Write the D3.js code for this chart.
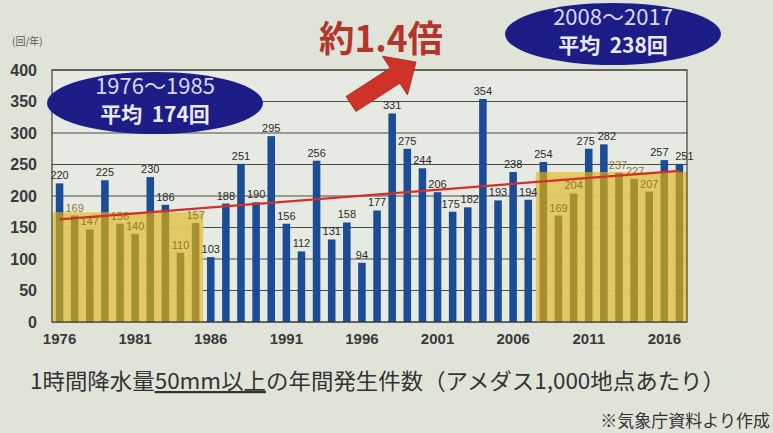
<!DOCTYPE html>
<html>
<head>
<meta charset="utf-8">
<script src="https://cdn.jsdelivr.net/npm/d3@7"></script>
<style>
  html, body { margin: 0; padding: 0; background: #e0e3d8; }
  svg { display: block; }
</style>
</head>
<body>
<svg id="chart" width="773" height="433"></svg>
<script>
// Annual number of 1-hour rainfall events of 50 mm or more (per 1,000 AMeDAS stations)
const years = [
  1976, 1977, 1978, 1979, 1980, 1981, 1982, 1983, 1984, 1985,
  1986, 1987, 1988, 1989, 1990, 1991, 1992, 1993, 1994, 1995,
  1996, 1997, 1998, 1999, 2000, 2001, 2002, 2003, 2004, 2005,
  2006, 2007, 2008, 2009, 2010, 2011, 2012, 2013, 2014, 2015,
  2016, 2017
];
const counts = [
  220, 169, 147, 225, 156, 140, 230, 186, 110, 157,
  103, 188, 251, 190, 295, 156, 112, 256, 131, 158,
   94, 177, 331, 275, 244, 206, 175, 182, 354, 193,
  238, 194, 254, 169, 204, 275, 282, 237, 227, 207,
  257, 251
];
const yTicks = [0, 50, 100, 150, 200, 250, 300, 350, 400];
const xTickYears = [1976, 1981, 1986, 1991, 1996, 2001, 2006, 2011, 2016];

// decade averages shown as shaded blocks
const periodEarly = [1976, 1985];
const avgEarly = 174;
const periodLate = [2008, 2017];
const avgLate = 238;

// linear trend, start and end values
const trendYears = [1976, 2017];
const trendValues = [163, 240];

const unitLabel = "(回/年)";
const ratioLabel = "約1.4倍";
const earlyRange = "1976～1985";
const earlyAvgLabel = "平均 174回";
const lateRange = "2008～2017";
const lateAvgLabel = "平均 238回";
const captionPre = "1時間降水量";
const captionUnder = "50mm以上";
const captionPost = "の年間発生件数（アメダス1,000地点あたり）";
const sourceNote = "※気象庁資料より作成";

const svg = d3.select("#chart");
const plot = { left: 52, right: 687, top: 70, bottom: 322 };

const jp = "'Noto Sans CJK JP', 'Noto Sans', sans-serif";
const num = "'Liberation Sans Narrow', 'Liberation Sans', 'DejaVu Sans Condensed', sans-serif";

const x = d3.scaleBand()
  .domain(years)
  .range([plot.left, plot.right])
  .paddingInner(0.5)
  .paddingOuter(0.25);
const y = d3.scaleLinear().domain([0, 400]).range([plot.bottom, plot.top]);
const bw = x.bandwidth();
const gap = x.step() * x.paddingInner() / 2;

// plot background
svg.append("rect")
  .attr("x", plot.left).attr("y", plot.top)
  .attr("width", plot.right - plot.left).attr("height", plot.bottom - plot.top)
  .attr("fill", "#e7eae2");

// horizontal grid
svg.append("g").selectAll("line").data(yTicks).join("line")
  .attr("x1", plot.left).attr("x2", plot.right)
  .attr("y1", d => y(d)).attr("y2", d => y(d))
  .attr("stroke", "#4a4a46").attr("stroke-width", 1);

// shaded average blocks
const blocks = [
  { from: periodEarly[0], to: periodEarly[1], avg: avgEarly },
  { from: periodLate[0], to: periodLate[1], avg: avgLate }
];
function blockOf(yr) {
  return blocks.find(b => yr >= b.from && yr <= b.to);
}
svg.append("g").selectAll("rect").data(blocks).join("rect")
  .attr("x", d => Math.max(plot.left, x(d.from) - gap))
  .attr("width", d => Math.min(plot.right, x(d.to) + bw + gap) - Math.max(plot.left, x(d.from) - gap))
  .attr("y", d => y(d.avg))
  .attr("height", d => y(0) - y(d.avg))
  .attr("fill", "#e3c75c")
  .attr("opacity", 0.95);

const rows = years.map((yr, i) => ({ yr, v: counts[i], block: blockOf(yr) }));

// bars: olive inside the shaded block, blue above it
const barG = svg.append("g");
barG.selectAll("rect.olive").data(rows.filter(r => r.block)).join("rect")
  .attr("class", "olive")
  .attr("x", d => x(d.yr)).attr("width", bw)
  .attr("y", d => y(Math.min(d.v, d.block.avg)))
  .attr("height", d => y(0) - y(Math.min(d.v, d.block.avg)))
  .attr("fill", "#a58f30");
barG.selectAll("rect.blue").data(rows.filter(r => !r.block || r.v > r.block.avg)).join("rect")
  .attr("class", "blue")
  .attr("x", d => x(d.yr)).attr("width", bw)
  .attr("y", d => y(d.v))
  .attr("height", d => (d.block ? y(d.block.avg) : y(0)) - y(d.v))
  .attr("fill", "#1d4c97");

// value labels, a few nudged sideways where neighbours crowd
const nudge = { 2002: -2, 2003: 2, 2011: -3, 2012: 3, 2013: -1, 2014: 1, 2016: -5, 2017: 5 };
svg.append("g").selectAll("text").data(rows).join("text")
  .attr("x", d => x(d.yr) + bw / 2 + (nudge[d.yr] || 0))
  .attr("y", d => y(d.v) - 4)
  .attr("text-anchor", "middle")
  .attr("font-family", num)
  .attr("font-size", 11)
  .attr("fill", d => (d.block && d.v < d.block.avg) ? "#8c7a2c" : "#2a2a2a")
  .text(d => d.v);

// trend line
svg.append("line")
  .attr("x1", x(trendYears[0]) + bw / 2).attr("y1", y(trendValues[0]))
  .attr("x2", x(trendYears[1]) + bw / 2).attr("y2", y(trendValues[1]))
  .attr("stroke", "#d2302a").attr("stroke-width", 2.2);

// frame
svg.append("rect")
  .attr("x", plot.left).attr("y", plot.top)
  .attr("width", plot.right - plot.left).attr("height", plot.bottom - plot.top)
  .attr("fill", "none").attr("stroke", "#3e3e3a").attr("stroke-width", 1.2);

// axes
const yAxis = svg.append("g")
  .attr("transform", `translate(${plot.left - 15},0)`)
  .call(d3.axisLeft(y).tickValues(yTicks).tickSize(0).tickPadding(0));
yAxis.select(".domain").remove();
yAxis.selectAll("text")
  .attr("font-family", "'Liberation Sans', sans-serif")
  .attr("font-weight", "bold")
  .attr("font-size", 16)
  .attr("fill", "#3a3a38");

const xAxis = svg.append("g")
  .attr("transform", `translate(0,${plot.bottom})`)
  .call(d3.axisBottom(x).tickValues(xTickYears).tickSize(0).tickPadding(11));
xAxis.select(".domain").remove();
xAxis.selectAll("text")
  .attr("font-family", num)
  .attr("font-weight", "bold")
  .attr("font-size", 15)
  .attr("fill", "#3a3a38");

svg.append("text")
  .attr("x", 12).attr("y", 45)
  .attr("font-family", jp).attr("font-size", 10)
  .attr("fill", "#555").text(unitLabel);

// period badges
function badge(cx, cy, rx, ry, range, avgText) {
  const g = svg.append("g");
  g.append("ellipse")
    .attr("cx", cx).attr("cy", cy).attr("rx", rx).attr("ry", ry)
    .attr("fill", "#1c1d86");
  g.append("text")
    .attr("x", cx).attr("y", cy - 9)
    .attr("text-anchor", "middle")
    .attr("font-family", "'Liberation Sans Narrow', " + jp)
    .attr("font-size", 22)
    .attr("fill", "#d9d9ef")
    .text(range);
  g.append("text")
    .attr("x", cx).attr("y", cy + 19)
    .attr("text-anchor", "middle")
    .attr("font-family", jp)
    .attr("font-weight", "bold")
    .attr("font-size", 21)
    .attr("fill", "#eaeaf6")
    .attr("xml:space", "preserve")
    .text(avgText.replace(" ", "  "));
}
badge(155, 103, 108, 31, earlyRange, earlyAvgLabel);
badge(613, 34, 108, 31, lateRange, lateAvgLabel);

// block arrow pointing up to the ratio
(function arrow() {
  const tail = [351, 104], tip = [416, 62];
  const dx = tip[0] - tail[0], dy = tip[1] - tail[1];
  const L = Math.hypot(dx, dy);
  const ang = Math.atan2(dy, dx) * 180 / Math.PI;
  const sh = 9, hw = 23, hl = 25;
  const pts = [[0, -sh], [L - hl, -sh], [L - hl, -hw], [L, 0], [L - hl, hw], [L - hl, sh], [0, sh]];
  svg.append("polygon")
    .attr("points", pts.map(p => p.join(",")).join(" "))
    .attr("transform", `translate(${tail[0]},${tail[1]}) rotate(${ang})`)
    .attr("fill", "#cf3328")
    .attr("stroke", "#a82a22").attr("stroke-width", 0.8);
})();

svg.append("text")
  .attr("x", 381).attr("y", 52)
  .attr("text-anchor", "middle")
  .attr("font-family", jp)
  .attr("font-weight", "bold")
  .attr("font-size", 36)
  .attr("fill", "#b3362c")
  .attr("textLength", 124)
  .attr("lengthAdjust", "spacingAndGlyphs")
  .text(ratioLabel);

// caption
const cap = svg.append("text")
  .attr("x", 30).attr("y", 389)
  .attr("font-family", jp)
  .attr("font-size", 22)
  .attr("fill", "#333")
  .attr("textLength", 695)
  .attr("lengthAdjust", "spacingAndGlyphs");
cap.append("tspan").text(captionPre);
cap.append("tspan").style("text-decoration", "underline").text(captionUnder);
cap.append("tspan").text(captionPost);

svg.append("text")
  .attr("x", 770).attr("y", 427)
  .attr("text-anchor", "end")
  .attr("font-family", jp)
  .attr("font-size", 17)
  .attr("fill", "#333")
  .text(sourceNote);
</script>
</body>
</html>
